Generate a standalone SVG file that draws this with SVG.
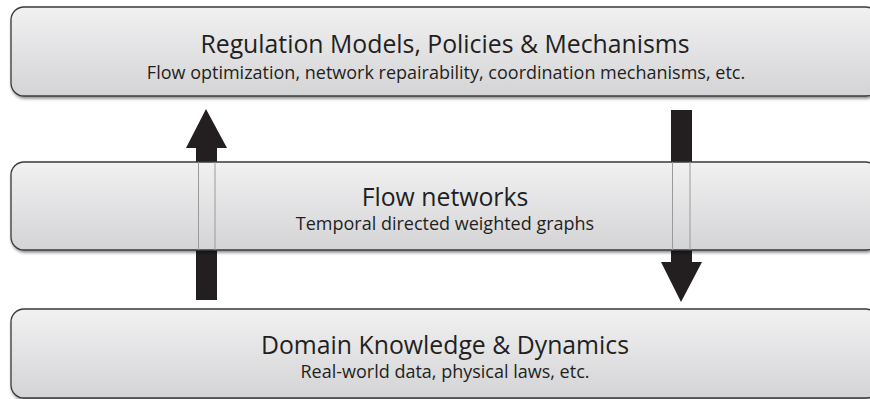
<svg xmlns="http://www.w3.org/2000/svg" width="870" height="399" viewBox="0 0 870 399">
<defs>
<linearGradient id="g" x1="0" y1="0" x2="0" y2="1">
<stop offset="0" stop-color="#f1f1f2"/>
<stop offset="1" stop-color="#d4d4d6"/>
</linearGradient>
<filter id="sh" x="-5%" y="-10%" width="110%" height="130%">
<feGaussianBlur in="SourceAlpha" stdDeviation="1.5"/>
<feOffset dx="1" dy="2" result="b"/>
<feComponentTransfer><feFuncA type="linear" slope="0.45"/></feComponentTransfer>
<feMerge><feMergeNode/><feMergeNode in="SourceGraphic"/></feMerge>
</filter>
</defs>
<style>
.box{fill:url(#g);stroke:#3a3a3a;stroke-width:1.3;filter:url(#sh)}
.t{font-family:"Open Sans","Liberation Sans",sans-serif;fill:#231f20;text-anchor:middle}
.h{font-size:24.8px}
.s{font-size:18px}
.arr{fill:#231f20}
.ln{stroke:#9a9a9a;stroke-width:1;fill:none}
</style>
<rect width="870" height="399" fill="#ffffff"/>
<g id="connectors">
<path class="arr" d="M196,148 L186,148 L206,109 L227,148 L217,148 L217,300 L196,300 Z"/>
<path class="arr" d="M671,110 L692,110 L692,262 L702,262 L681,302 L661,262 L671,262 Z"/>
</g>
<g id="regulation">
<rect class="box" x="11" y="7" width="868" height="89" rx="13"/>
<text class="t h" x="445" y="53">Regulation Models, Policies &amp; Mechanisms</text>
<text class="t s" x="446" y="79">Flow optimization, network repairability, coordination mechanisms, etc.</text>
</g>
<g id="flow">
<rect class="box" x="11" y="162" width="868" height="88" rx="13"/>
<line class="ln" x1="198.5" y1="162" x2="198.5" y2="250"/>
<line class="ln" x1="215" y1="162" x2="215" y2="250"/>
<line class="ln" x1="672.5" y1="162" x2="672.5" y2="250"/>
<line class="ln" x1="690" y1="162" x2="690" y2="250"/>
<text class="t h" x="445" y="206">Flow networks</text>
<text class="t s" x="445" y="230">Temporal directed weighted graphs</text>
</g>
<g id="domain">
<rect class="box" x="11" y="309" width="868" height="89" rx="13"/>
<text class="t h" x="445" y="354">Domain Knowledge &amp; Dynamics</text>
<text class="t s" x="445" y="378">Real-world data, physical laws, etc.</text>
</g>
</svg>
